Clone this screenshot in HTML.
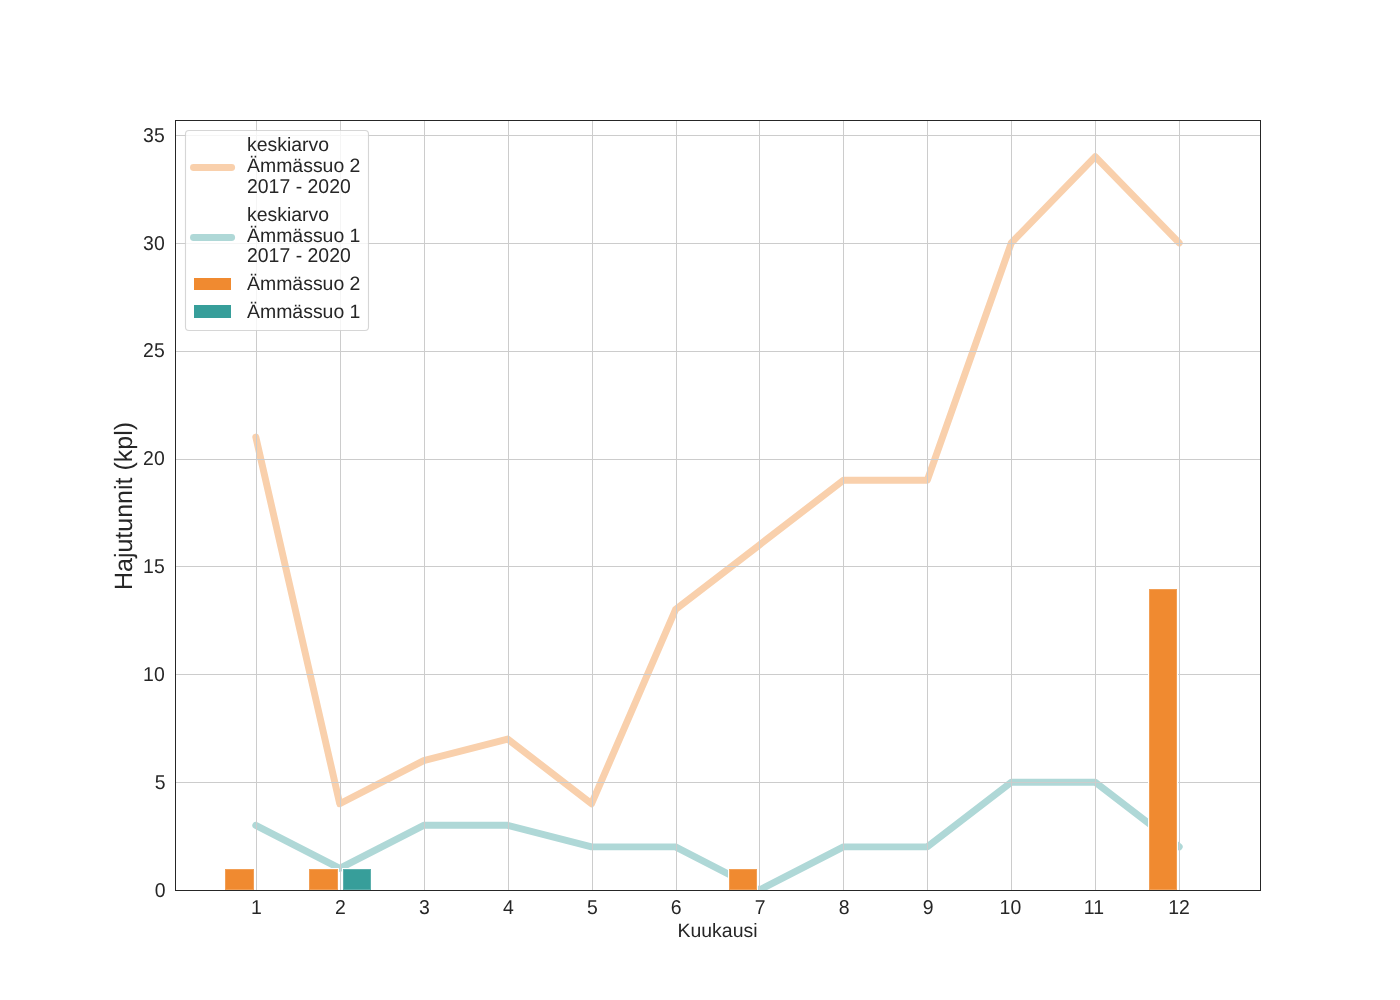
<!DOCTYPE html>
<html><head><meta charset="utf-8"><title>chart</title>
<style>
html,body{margin:0;padding:0;background:#fff;}
body{width:1400px;height:1000px;overflow:hidden;font-family:"Liberation Sans",sans-serif;}
svg{display:block;will-change:transform;font-family:"Liberation Sans",sans-serif;}
text{fill:#262626;text-rendering:geometricPrecision;}
</style></head><body>
<svg width="1400" height="1000" viewBox="0 0 1400 1000">
<rect x="0" y="0" width="1400" height="1000" fill="#ffffff"/>
<clipPath id="ax"><rect x="175" y="120" width="1086" height="771"/></clipPath>

<g clip-path="url(#ax)" fill="none" stroke-width="6.94" stroke-linejoin="round" stroke-linecap="round">
<polyline points="255.80,437.06 339.74,803.73 423.69,760.59 507.64,739.02 591.58,803.73 675.53,609.61 759.47,544.90 843.42,480.20 927.36,480.20 1011.31,242.94 1095.26,156.67 1179.20,242.94" stroke="#f9d0ac"/>
<polyline points="255.80,825.29 339.74,868.43 423.69,825.29 507.64,825.29 591.58,846.86 675.53,846.86 759.47,890.00 843.42,846.86 927.36,846.86 1011.31,782.16 1095.26,782.16 1179.20,846.86" stroke="#afd8d7"/>
</g>
<g fill="#cccccc" shape-rendering="crispEdges">
<rect x="256" y="121" width="1" height="769"/>
<rect x="340" y="121" width="1" height="769"/>
<rect x="424" y="121" width="1" height="769"/>
<rect x="508" y="121" width="1" height="769"/>
<rect x="592" y="121" width="1" height="769"/>
<rect x="676" y="121" width="1" height="769"/>
<rect x="759" y="121" width="1" height="769"/>
<rect x="843" y="121" width="1" height="769"/>
<rect x="927" y="121" width="1" height="769"/>
<rect x="1011" y="121" width="1" height="769"/>
<rect x="1095" y="121" width="1" height="769"/>
<rect x="1179" y="121" width="1" height="769"/>
<rect x="176" y="782" width="1084" height="1"/>
<rect x="176" y="674" width="1084" height="1"/>
<rect x="176" y="566" width="1084" height="1"/>
<rect x="176" y="459" width="1084" height="1"/>
<rect x="176" y="351" width="1084" height="1"/>
<rect x="176" y="243" width="1084" height="1"/>
<rect x="176" y="135" width="1084" height="1"/>
</g>
<rect x="224" y="868" width="31" height="22" fill="#ffffff"/>
<rect x="225" y="869" width="29" height="21" fill="#f08a30"/>
<rect x="225.5" y="869.5" width="28" height="20" fill="none" stroke="#ffffff" stroke-opacity="0.18" stroke-width="1"/>
<rect x="308" y="868" width="31" height="22" fill="#ffffff"/>
<rect x="309" y="869" width="29" height="21" fill="#f08a30"/>
<rect x="309.5" y="869.5" width="28" height="20" fill="none" stroke="#ffffff" stroke-opacity="0.18" stroke-width="1"/>
<rect x="342" y="868" width="30" height="22" fill="#ffffff"/>
<rect x="343" y="869" width="28" height="21" fill="#379e9a"/>
<rect x="343.5" y="869.5" width="27" height="20" fill="none" stroke="#ffffff" stroke-opacity="0.18" stroke-width="1"/>
<rect x="728" y="868" width="30" height="22" fill="#ffffff"/>
<rect x="729" y="869" width="28" height="21" fill="#f08a30"/>
<rect x="729.5" y="869.5" width="27" height="20" fill="none" stroke="#ffffff" stroke-opacity="0.18" stroke-width="1"/>
<rect x="1148" y="588" width="30" height="302" fill="#ffffff"/>
<rect x="1149" y="589" width="28" height="301" fill="#f08a30"/>
<rect x="1149.5" y="589.5" width="27" height="300" fill="none" stroke="#ffffff" stroke-opacity="0.18" stroke-width="1"/>
<g fill="#262626" shape-rendering="crispEdges">
<rect x="175" y="120" width="1086" height="1"/>
<rect x="175" y="890" width="1086" height="1"/>
<rect x="175" y="120" width="1" height="771"/>
<rect x="1260" y="120" width="1" height="771"/>
</g>
<g font-size="19.44px">
<text transform="translate(256.5,913.8) scale(1,1.035)" text-anchor="middle">1</text>
<text transform="translate(340.4,913.8) scale(1,1.035)" text-anchor="middle">2</text>
<text transform="translate(424.4,913.8) scale(1,1.035)" text-anchor="middle">3</text>
<text transform="translate(508.3,913.8) scale(1,1.035)" text-anchor="middle">4</text>
<text transform="translate(592.3,913.8) scale(1,1.035)" text-anchor="middle">5</text>
<text transform="translate(676.2,913.8) scale(1,1.035)" text-anchor="middle">6</text>
<text transform="translate(760.2,913.8) scale(1,1.035)" text-anchor="middle">7</text>
<text transform="translate(844.1,913.8) scale(1,1.035)" text-anchor="middle">8</text>
<text transform="translate(928.1,913.8) scale(1,1.035)" text-anchor="middle">9</text>
<text transform="translate(1010.4,913.8) scale(1,1.035)" text-anchor="middle">10</text>
<text transform="translate(1093.9,913.8) scale(1,1.035)" text-anchor="middle">11</text>
<text transform="translate(1179.0,913.8) scale(1,1.035)" text-anchor="middle">12</text>
<text transform="translate(165.6,896.6) scale(1,1.035)" text-anchor="end">0</text>
<text transform="translate(165.6,788.8) scale(1,1.035)" text-anchor="end">5</text>
<text transform="translate(164.7,680.9) scale(1,1.035)" text-anchor="end">10</text>
<text transform="translate(164.7,573.1) scale(1,1.035)" text-anchor="end">15</text>
<text transform="translate(164.7,465.2) scale(1,1.035)" text-anchor="end">20</text>
<text transform="translate(164.7,357.4) scale(1,1.035)" text-anchor="end">25</text>
<text transform="translate(164.7,249.5) scale(1,1.035)" text-anchor="end">30</text>
<text transform="translate(164.7,141.7) scale(1,1.035)" text-anchor="end">35</text>
<text x="717.5" y="936.8" text-anchor="middle">Kuukausi</text>
</g>
<text font-size="25px" text-anchor="middle" transform="translate(131.8,506.0) rotate(-90)">Hajutunnit (kpl)</text>
<rect x="185.5" y="130.5" width="183" height="200" rx="3.5" ry="3.5" fill="#ffffff" fill-opacity="0.8" stroke="#cccccc" stroke-opacity="0.8" stroke-width="1.1"/>
<line x1="193.5" x2="231.6" y1="167.5" y2="167.5" stroke="#f9d0ac" stroke-width="6.94" stroke-linecap="round"/>
<line x1="193.5" x2="231.6" y1="237.5" y2="237.5" stroke="#afd8d7" stroke-width="6.94" stroke-linecap="round"/>
<rect x="194" y="278" width="37" height="12" fill="#f08a30"/>
<rect x="194" y="305" width="37" height="13" fill="#379e9a"/>
<g font-size="19.44px">
<text x="247.0" y="150.8">keskiarvo</text>
<text x="247.0" y="171.8">Ämmässuo 2</text>
<text transform="translate(247.0,192.8) scale(1,1.035)">2017 - 2020</text>
<text x="247.0" y="220.8">keskiarvo</text>
<text x="247.0" y="241.8">Ämmässuo 1</text>
<text transform="translate(247.0,261.8) scale(1,1.035)">2017 - 2020</text>
<text x="247.0" y="289.8">Ämmässuo 2</text>
<text x="247.0" y="317.8">Ämmässuo 1</text>
</g>
</svg></body></html>
